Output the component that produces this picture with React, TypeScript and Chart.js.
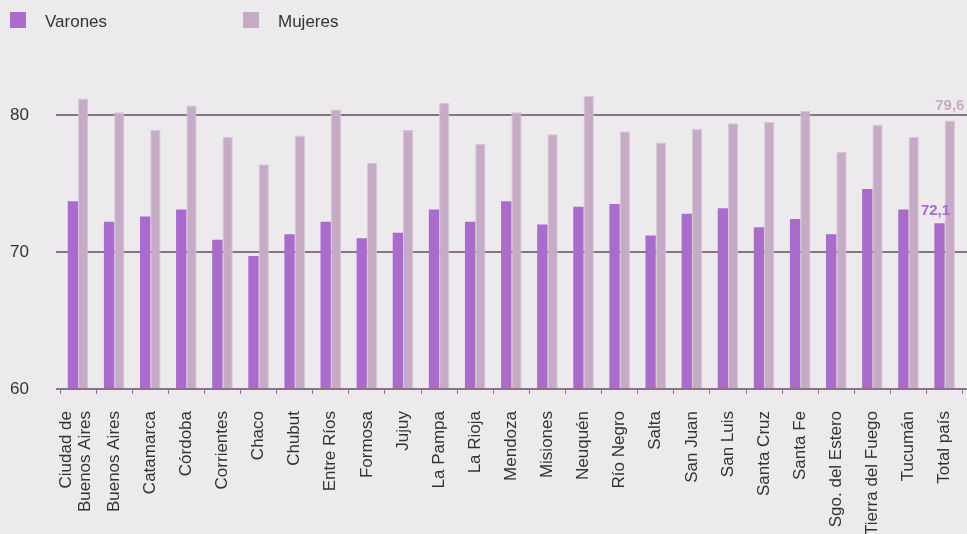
import React, { useEffect, useRef } from "react";
import { Chart, registerables } from "chart.js";

Chart.register(...registerables);

const categories: (string | string[])[] = [
  ["Ciudad de", "Buenos Aires"], "Buenos Aires", "Catamarca", "Córdoba", "Corrientes", "Chaco",
  "Chubut", "Entre Ríos", "Formosa", "Jujuy", "La Pampa", "La Rioja", "Mendoza", "Misiones",
  "Neuquén", "Río Negro", "Salta", "San Juan", "San Luis", "Santa Cruz", "Santa Fe",
  "Sgo. del Estero", "Tierra del Fuego", "Tucumán", "Total país",
];
const varones = [73.7, 72.2, 72.6, 73.1, 70.9, 69.7, 71.3, 72.2, 71.0, 71.4, 73.1, 72.2, 73.7, 72.0, 73.3, 73.5, 71.2, 72.8, 73.2, 71.8, 72.4, 71.3, 74.6, 73.1, 72.1];
const mujeres = [81.2, 80.2, 78.9, 80.7, 78.4, 76.4, 78.5, 80.4, 76.5, 78.9, 80.9, 77.9, 80.2, 78.6, 81.4, 78.8, 78.0, 79.0, 79.4, 79.5, 80.3, 77.3, 79.3, 78.4, 79.6];
const yTicks = [60, 70, 80];
const gridValues = [70, 80];
const totalLabels = ["72,1", "79,6"];
const seriesNames = ["Varones", "Mujeres"];

const C_V = "#A96BCC";
const C_M = "#C6ABC6";
const GRID = "#8C7088";
const TEXT = "#333333";
const BG = "#ECEAED";
const FONT = "'Liberation Sans', Arial, Helvetica, sans-serif";

const customPlugin = {
  id: "custom",
  beforeDatasetsDraw(chart: any) {
    const ctx = chart.ctx;
    const y = chart.scales.y;
    ctx.save();
    ctx.strokeStyle = GRID;
    ctx.lineWidth = 2;
    gridValues.forEach((v) => {
      const py = Math.round(y.getPixelForValue(v));
      ctx.beginPath();
      ctx.moveTo(56, py);
      ctx.lineTo(967, py);
      ctx.stroke();
    });
    ctx.restore();
  },
  afterDatasetsDraw(chart: any) {
    const ctx = chart.ctx;
    const y = chart.scales.y;
    const x = chart.scales.x;
    ctx.save();
    ctx.strokeStyle = GRID;
    ctx.lineWidth = 2;
    const by = Math.round(y.getPixelForValue(60));
    ctx.beginPath();
    ctx.moveTo(56, by);
    ctx.lineTo(967, by);
    ctx.stroke();
    const last = categories.length - 1;
    const m0 = chart.getDatasetMeta(0).data[last];
    const m1 = chart.getDatasetMeta(1).data[last];
    ctx.font = `bold 15px ${FONT}`;
    ctx.textAlign = "center";
    ctx.textBaseline = "bottom";
    ctx.fillStyle = C_V;
    ctx.fillText(totalLabels[0], m0.x - 4, m0.y - 5);
    ctx.fillStyle = C_M;
    ctx.fillText(totalLabels[1], m1.x, m1.y - 7);
    ctx.font = `17px ${FONT}`;
    ctx.fillStyle = TEXT;
    ctx.textAlign = "right";
    ctx.textBaseline = "middle";
    categories.forEach((c, i) => {
      const lines = Array.isArray(c) ? c : [c];
      const px = x.getPixelForValue(i);
      lines.forEach((ln, j) => {
        const off = (j - (lines.length - 1) / 2) * 19 - (lines.length > 1 ? 2 : 0);
        ctx.save();
        ctx.translate(px + off, 411);
        ctx.rotate(-Math.PI / 2);
        ctx.fillText(ln, 0, 0);
        ctx.restore();
      });
    });
    ctx.restore();
  },
};

export default function App() {
  const ref = useRef<HTMLCanvasElement>(null);
  useEffect(() => {
    if (!ref.current) return;
    const chart = new Chart(ref.current, {
      type: "bar",
      data: {
        labels: categories as any,
        datasets: [
          {
            label: seriesNames[0],
            data: varones,
            backgroundColor: C_V,
            categoryPercentage: 0.57,
            barPercentage: 1,
          },
          {
            label: seriesNames[1],
            data: mujeres,
            backgroundColor: C_M,
            borderColor: "#D6C6D6",
            borderWidth: { top: 1, left: 1, right: 1, bottom: 0 },
            categoryPercentage: 0.57,
            barPercentage: 1,
          },
        ],
      },
      options: {
        animation: false,
        responsive: false,
        maintainAspectRatio: false,
        layout: { padding: { top: 87.6, right: 4.3, left: 0, bottom: 0 } },
        plugins: { legend: { display: false }, tooltip: { enabled: false } },
        scales: {
          x: {
            grid: {
              display: true,
              drawOnChartArea: false,
              drawTicks: true,
              tickLength: 5,
              offset: true,
              color: GRID,
              lineWidth: 1,
            },
            border: { display: false },
            ticks: { display: false },
            afterFit: (s: any) => {
              s.height = 145;
            },
          },
          y: {
            min: 60,
            max: 82,
            grid: { display: false },
            border: { display: false },
            afterBuildTicks: (s: any) => {
              s.ticks = yTicks.map((v) => ({ value: v }));
            },
            ticks: {
              padding: 23,
              color: TEXT,
              font: { family: FONT, size: 17 },
            },
            afterFit: (s: any) => {
              s.width = 60;
            },
          },
        },
      },
      plugins: [customPlugin],
    });
    return () => chart.destroy();
  }, []);

  const legendItem = (left: number, color: string, text: string) => (
    <div style={{ position: "absolute", left, top: 12, display: "flex", alignItems: "center" }}>
      <div style={{ width: 16, height: 16, background: color }} />
      <span style={{ marginLeft: 19, fontFamily: FONT, fontSize: 17, color: TEXT, lineHeight: "16px", position: "relative", top: 2 }}>{text}</span>
    </div>
  );

  return (
    <div style={{ position: "fixed", left: 0, top: 0, width: 967, height: 534, background: BG, overflow: "hidden" }}>
      <canvas ref={ref} width={967} height={534} style={{ position: "absolute", left: 0, top: 0 }} />
      {legendItem(10, C_V, seriesNames[0])}
      {legendItem(243, C_M, seriesNames[1])}
    </div>
  );
}
